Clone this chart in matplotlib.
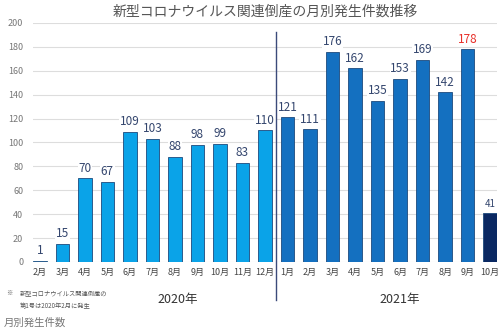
import matplotlib
matplotlib.use("Agg")
from matplotlib import pyplot as plt
import numpy as np

plt.rcParams['font.family'] = ['Noto Sans CJK JP', 'DejaVu Sans']

# データ
months = ['2月', '3月', '4月', '5月', '6月', '7月', '8月', '9月', '10月', '11月', '12月',
          '1月', '2月', '3月', '4月', '5月', '6月', '7月', '8月', '9月', '10月']
counts_2020 = [1, 15, 70, 67, 109, 103, 88, 98, 99, 83, 110]
counts_2021 = [121, 111, 176, 162, 135, 153, 169, 142, 178, 41]
yticks = [0, 20, 40, 60, 80, 100, 120, 140, 160, 180, 200]

values = counts_2020 + counts_2021
x = np.arange(len(values))

colors = ['#0aa3e8'] * len(counts_2020) + ['#1470c0'] * (len(counts_2021) - 1) + ['#0a2862']
label_colors = ['#34466e'] * len(values)
label_colors[-2] = '#e8302a'
label_sizes = [8.5] * len(values)
label_sizes[-1] = 7

fig = plt.figure(figsize=(5, 3.32), dpi=100)
ax = fig.add_axes([0.066, 0.211, 0.928, 0.72])

ax.bar(x, values, width=0.6, color=colors, edgecolor='#1d4a7c', linewidth=0.6, zorder=3)
for xi, v, c, fs in zip(x, values, label_colors, label_sizes):
    ax.text(xi, v + 3, str(v), ha='center', va='bottom', fontsize=fs, color=c, zorder=4,
            bbox=dict(facecolor='white', edgecolor='none', pad=0.5))

ax.set_xlim(-0.3, 20.3)
ax.set_ylim(0, 200)
ax.set_yticks(yticks)
ax.set_xticks(x)
ax.set_xticklabels(months, fontsize=6.5, color='#444444')
ax.tick_params(axis='y', labelsize=6.5, labelcolor='#777777', length=0, pad=7)
ax.tick_params(axis='x', length=0, pad=4)
ax.grid(axis='y', color='#dddddd', linewidth=0.8, zorder=0)
for s in ax.spines.values():
    s.set_visible(False)

# 年の区切り線
ax.axvline(10.5, ymin=-0.16, ymax=0.962, color='#3b4a7a', linewidth=1, clip_on=False, zorder=5)

fig.text(0.53, 0.966, '新型コロナウイルス関連倒産の月別発生件数推移', ha='center', va='center',
         fontsize=10, color='#555555')
fig.text(0.355, 0.097, '2020年', ha='center', va='center', fontsize=9, color='#333333')
fig.text(0.80, 0.097, '2021年', ha='center', va='center', fontsize=9, color='#333333')
fig.text(0.012, 0.118, '※', ha='left', va='center', fontsize=4.5, color='#555555')
fig.text(0.04, 0.118, '新型コロナウイルス関連倒産の', ha='left', va='center', fontsize=4.5, color='#555555')
fig.text(0.04, 0.078, '第1号は2020年2月に発生', ha='left', va='center', fontsize=4.5, color='#555555')
fig.text(0.008, 0.028, '月別発生件数', ha='left', va='center', fontsize=7.5, color='#777777')

fig.savefig('out.png', dpi=100)
